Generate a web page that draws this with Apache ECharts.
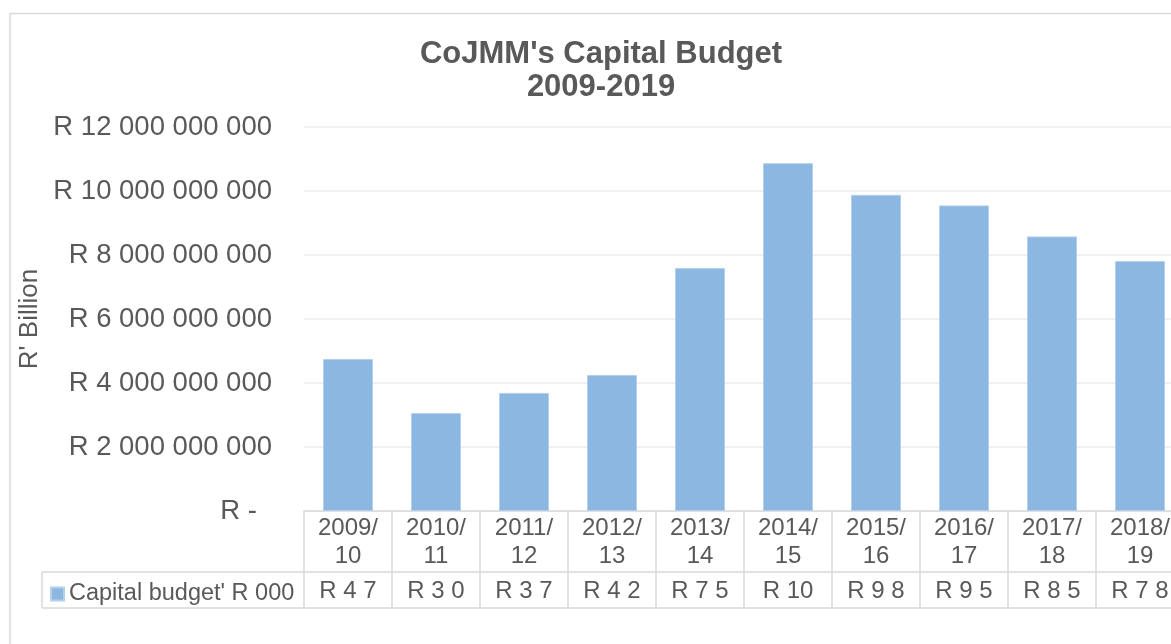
<!DOCTYPE html>
<html>
<head>
<meta charset="utf-8">
<script src="https://cdn.jsdelivr.net/npm/echarts@6/dist/echarts.min.js"></script>
<style>
html,body{margin:0;padding:0;background:#fff;overflow:hidden;}
#chart{width:1192px;height:644px;}
</style>
</head>
<body>
<div id="chart"></div>
<script>
// ---- data ----
const categories = ['2009/10', '2010/11', '2011/12', '2012/13', '2013/14', '2014/15', '2015/16', '2016/17', '2017/18', '2018/19'];
const capitalBudget = [4750000000, 3060000000, 3690000000, 4250000000, 7590000000, 10870000000, 9880000000, 9550000000, 8580000000, 7810000000];
const tableValueLabels = ['R 4 7', 'R 3 0', 'R 3 7', 'R 4 2', 'R 7 5', 'R 10', 'R 9 8', 'R 9 5', 'R 8 5', 'R 7 8'];
const yTicks = [0, 2000000000, 4000000000, 6000000000, 8000000000, 10000000000, 12000000000];
const seriesName = "Capital budget' R 000";
const titleText = "CoJMM's Capital Budget\n2009-2019";
const yAxisName = "R' Billion";

const TXT = '#595959';
const LINE = '#d9d9d9';
const FONT = '"Liberation Sans", Arial, sans-serif';

function fmtR(v) {
  if (v === 0) return '{z|R -}';
  const s = String(Math.round(v)).replace(/\B(?=(\d{3})+(?!\d))/g, ' ');
  return 'R ' + s;
}

const chart = echarts.init(document.getElementById('chart'), null, {renderer: 'canvas'});
chart.setOption({
  animation: false,
  backgroundColor: '#fff',
  textStyle: {fontFamily: FONT},
  title: {
    text: titleText,
    left: 596,
    textAlign: 'center',
    top: 33,
    textStyle: {fontFamily: FONT, fontSize: 31, fontWeight: 'bold', color: TXT, lineHeight: 33}
  },
  legend: {
    data: [seriesName],
    left: 45,
    top: 577,
    itemWidth: 13,
    itemHeight: 13,
    icon: 'rect',
    selectedMode: false,
    textStyle: {fontFamily: FONT, fontSize: 23.5, color: TXT}
  },
  grid: {left: 304, top: 127, width: 880, height: 384, containLabel: false},
  xAxis: [
    {
      type: 'category',
      data: categories,
      position: 'bottom',
      boundaryGap: true,
      axisLine: {show: true, lineStyle: {color: LINE, width: 1.5}},
      axisTick: {show: true, interval: 0, length: 61, inside: false, lineStyle: {color: LINE, width: 1.5}},
      axisLabel: {
        interval: 0, margin: 3, color: TXT, fontFamily: FONT, fontSize: 24, lineHeight: 28,
        formatter: v => v.replace('/', '/\n')
      },
      splitLine: {show: false}
    },
    {
      type: 'category',
      data: categories,
      position: 'bottom',
      offset: 61,
      boundaryGap: true,
      axisLine: {show: true, lineStyle: {color: LINE, width: 1.5}},
      axisTick: {show: true, interval: 0, length: 36, inside: false, lineStyle: {color: LINE, width: 1.5}},
      axisLabel: {
        interval: 0, margin: 5, color: TXT, fontFamily: FONT, fontSize: 24, lineHeight: 28,
        formatter: (v, i) => tableValueLabels[i]
      },
      splitLine: {show: false}
    },
    {
      type: 'category',
      data: categories,
      position: 'bottom',
      offset: 97,
      axisLine: {show: true, lineStyle: {color: LINE, width: 1.5}},
      axisTick: {show: false},
      axisLabel: {show: false},
      splitLine: {show: false}
    }
  ],
  yAxis: {
    type: 'value',
    min: yTicks[0],
    max: yTicks[yTicks.length - 1],
    interval: yTicks[1] - yTicks[0],
    name: yAxisName,
    nameLocation: 'middle',
    nameRotate: 90,
    nameGap: 258,
    nameTextStyle: {fontFamily: FONT, fontSize: 26, color: TXT},
    axisLine: {show: false},
    axisTick: {show: false},
    axisLabel: {
      margin: 32, color: TXT, fontFamily: FONT, fontSize: 27.5,
      formatter: fmtR,
      rich: {z: {fontFamily: FONT, fontSize: 27.5, color: TXT, padding: [0, 15, 0, 0]}}
    },
    splitLine: {show: true, lineStyle: {color: '#ececec', width: 1.5}}
  },
  series: [{
    name: seriesName,
    type: 'bar',
    xAxisIndex: 0,
    data: capitalBudget,
    barWidth: 50,
    itemStyle: {color: '#8cb7e0', borderColor: '#b4d0ec', borderWidth: 1}
  }],
  graphic: [
    {type: 'rect', shape: {x: 10, y: 13.5, width: 1172, height: 700}, style: {fill: null, stroke: LINE, lineWidth: 1.5}, silent: true},
    {type: 'line', shape: {x1: 42, y1: 572, x2: 304, y2: 572}, style: {stroke: LINE, lineWidth: 1.5}, silent: true},
    {type: 'line', shape: {x1: 42, y1: 608, x2: 304, y2: 608}, style: {stroke: LINE, lineWidth: 1.5}, silent: true},
    {type: 'line', shape: {x1: 42, y1: 572, x2: 42, y2: 608}, style: {stroke: LINE, lineWidth: 1.5}, silent: true}
  ]
});
</script>
</body>
</html>
